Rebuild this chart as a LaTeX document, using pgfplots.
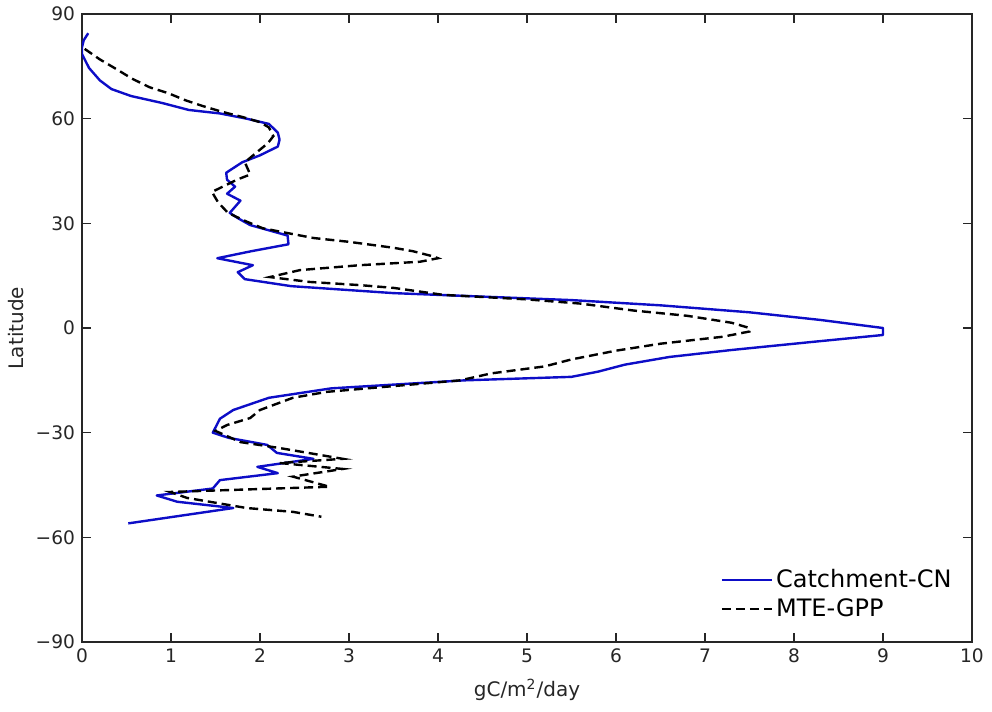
\documentclass[border=0pt]{standalone}
\usepackage{pgfplots}
\pgfplotsset{compat=1.18}
\usepackage{fontspec}
\setmainfont{DejaVu Sans}
\definecolor{mblue}{rgb}{0.05,0.05,0.78}
\definecolor{axgray}{rgb}{0.15,0.15,0.15}
\begin{document}
\begin{tikzpicture}
\begin{axis}[
  scale only axis,
  width=445pt, height=314pt,
  xmin=0, xmax=10, ymin=-90, ymax=90,
  xtick={0,1,...,10},
  ytick={-90,-60,-30,0,30,60,90},
  yticklabels={−90,−60,−30,0,30,60,90},
  tick align=inside,
  major tick length=4.5pt,
  axis line style={axgray, line width=0.6pt},
  tick style={axgray, line width=0.6pt},
  /pgf/number format/assume math mode=true,
  ticklabel style={font=\fontsize{9.3}{11}\selectfont, text=axgray},
  xlabel={gC/m\textsuperscript{2}/day},
  ylabel={Latitude},
  label style={font=\fontsize{10}{12}\selectfont, text=axgray},
  xlabel style={yshift=-1pt},
  ylabel style={yshift=-1pt},
  legend style={draw=none, fill=none, at={(0.983,0.027)}, anchor=south east,
    font=\fontsize{12}{14}\selectfont, row sep=1pt, inner sep=1pt,
    nodes={inner sep=1.5pt}},
  legend cell align=left,
  legend image code/.code={\draw[#1] (0pt,0pt) -- (25pt,0pt);},
]
\addplot[mblue, line width=1.2pt, line join=round] table {
x y
0.07 84.5
0.02 82.5
0.0 80.5
0.0 78.5
0.08 74.5
0.2 71
0.33 68.5
0.55 66.5
0.9 64.5
1.2 62.5
1.55 61.5
1.85 60
2.1 58.5
2.2 56
2.22 54
2.2 52
2.0 49.5
1.8 47.5
1.62 44.5
1.63 42.5
1.72 40.5
1.63 38.5
1.78 36.5
1.66 33
1.75 31.5
1.89 29.5
2.1 28
2.31 26.5
2.32 24
1.9 22
1.52 20
1.92 18
1.75 16
1.83 14
2.35 12
3.5 10
4.5 9
5.5 8
6.5 6.5
7.5 4.5
8.3 2.3
9.0 0
9.0 -2
8.2 -4
7.3 -6.3
6.6 -8.3
6.1 -10.5
5.8 -12.5
5.5 -14
4.3 -15
2.8 -17.3
2.1 -20
1.7 -23.5
1.55 -26
1.47 -30
1.65 -31.5
2.08 -33.5
2.19 -35.8
2.6 -37.5
1.97 -39.8
2.2 -41.6
1.55 -43.6
1.47 -46
0.84 -48
1.07 -49.8
1.7 -51.6
0.52 -56
};
\addlegendentry{Catchment-CN}
\addplot[black, line width=1.2pt, dash pattern=on 4.5pt off 2.5pt] table {
x y
0.03 80
0.2 77
0.4 74
0.56 71.5
0.76 69
0.97 67.3
1.16 65.3
1.36 63.6
1.57 62
1.8 60.5
2.0 59
2.1 57.5
2.15 55
2.09 53
1.97 50.5
1.83 47.5
1.89 44
1.74 42.5
1.46 39
1.53 36
1.64 33
1.85 30.5
2.03 28.6
2.25 27.5
2.6 25.8
3.0 24.7
3.5 23
3.72 22
3.95 20.5
4.0 20
3.8 19
3.12 18
2.45 16.6
2.11 14.6
2.56 13.2
3.12 12.3
3.5 11.5
4.06 9.5
5.0 8.2
5.6 7
6.2 5
6.8 3.5
7.3 1.5
7.5 0
7.5 -1
7.2 -2.5
6.5 -4.5
6.0 -6.5
5.5 -9
5.2 -11
4.6 -13
4.25 -15
2.75 -18.3
2.37 -20
2.0 -23.5
1.89 -25.8
1.63 -27.8
1.5 -29.5
1.78 -32.7
2.22 -34.4
2.93 -37.5
2.22 -38.7
2.93 -40.4
2.37 -42.6
2.78 -45.5
0.99 -47
1.18 -48.7
1.85 -51.6
2.37 -52.7
2.69 -54.1
};
\addlegendentry{MTE-GPP}
\end{axis}
\pgfresetboundingbox
\path (-41pt,-35pt) rectangle (455pt,321pt);
\end{tikzpicture}
\end{document}
